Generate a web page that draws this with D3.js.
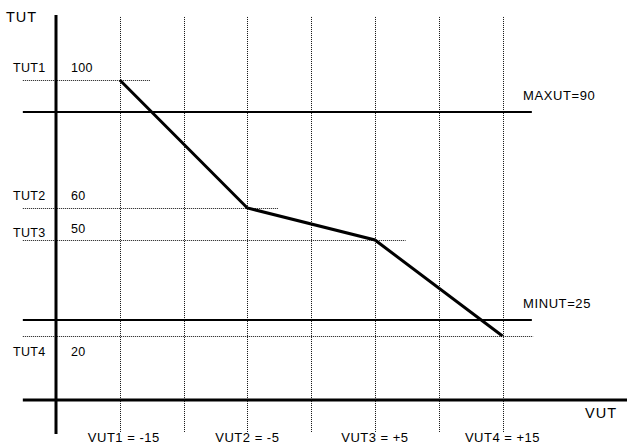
<!DOCTYPE html>
<html>
<head>
<meta charset="utf-8">
<script src="https://cdn.jsdelivr.net/npm/d3@7/dist/d3.min.js"></script>
<style>
  html, body { margin: 0; padding: 0; background: #fff; }
  svg { display: block; }
  text { font-family: "Liberation Sans", Arial, sans-serif; fill: #000; }
</style>
</head>
<body>
<script>
// Break points of the curve: speed values (VUT) and their TUT values
const vutValues = [-15, -5, 5, 15];
const vutLabels = ["VUT1 = -15", "VUT2 = -5", "VUT3 = +5", "VUT4 = +15"];
const tutNames = ["TUT1", "TUT2", "TUT3", "TUT4"];
const tutValues = [100, 60, 50, 20];
// Limits
const maxut = 90;
const minut = 25;
const limitLabels = ["MAXUT=90", "MINUT=25"];
// Grid positions along VUT
const gridVut = [-15, -10, -5, 0, 5, 10, 15];

const W = 627, H = 444;
const svg = d3.select("body").append("svg").attr("width", W).attr("height", H);

const x = d3.scaleLinear().domain([-20, 15]).range([56, 502.5]);
const y = d3.scaleLinear().domain([0, 100]).range([400, 80]);

const xLeft = -22.6, xRight = 17.3, yTop = 120.3, yBottom = -10;

// Vertical dotted grid
svg.append("g").selectAll("line").data(gridVut).join("line")
  .attr("x1", d => Math.round(x(d)) + 0.5).attr("x2", d => Math.round(x(d)) + 0.5)
  .attr("y1", y(119.7)).attr("y2", y(-10.3))
  .attr("stroke", "#111").attr("stroke-width", 1).attr("stroke-dasharray", "1,1");

// Horizontal dotted guides from each break point
svg.append("g").selectAll("line").data(tutValues).join("line")
  .attr("x1", x(xLeft)).attr("x2", (d, i) => x(vutValues[i] + 2.4))
  .attr("y1", d => Math.round(y(d)) + 0.5).attr("y2", d => Math.round(y(d)) + 0.5)
  .attr("stroke", "#111").attr("stroke-width", 1).attr("stroke-dasharray", "1,1");

// MAXUT / MINUT limit lines
svg.append("g").selectAll("line").data([maxut, minut]).join("line")
  .attr("x1", x(xLeft)).attr("x2", x(xRight))
  .attr("y1", d => y(d)).attr("y2", d => y(d))
  .attr("stroke", "#000").attr("stroke-width", 2);

svg.append("g").selectAll("text").data(limitLabels).join("text")
  .attr("x", 523)
  .attr("y", (d, i) => y([maxut, minut][i]) - 12)
  .attr("font-size", 13).attr("letter-spacing", 0.6)
  .text(d => d);

// Axes
svg.append("line")
  .attr("x1", x(xLeft)).attr("x2", W).attr("y1", y(0)).attr("y2", y(0))
  .attr("stroke", "#000").attr("stroke-width", 3);
svg.append("line")
  .attr("x1", x(-20)).attr("x2", x(-20)).attr("y1", y(yTop)).attr("y2", y(yBottom) + 2)
  .attr("stroke", "#000").attr("stroke-width", 3);

// Curve
svg.append("path")
  .datum(vutValues.map((v, i) => [v, tutValues[i]]))
  .attr("d", d3.line().x(d => x(d[0])).y(d => y(d[1])))
  .attr("fill", "none").attr("stroke", "#000").attr("stroke-width", 3)
  .attr("stroke-linejoin", "miter");

// TUT labels on the left (name beside the axis, value inside)
const nameDy = [-8, -8, -3, 20];
const valDy = [-8, -8, -7, 20];
svg.append("g").selectAll("text").data(tutNames).join("text")
  .attr("x", 13).attr("y", (d, i) => y(tutValues[i]) + nameDy[i])
  .attr("font-size", 12.5).attr("letter-spacing", 0.3)
  .text(d => d);
svg.append("g").selectAll("text").data(tutValues).join("text")
  .attr("x", 71).attr("y", (d, i) => y(d) + valDy[i])
  .attr("font-size", 12.5).attr("letter-spacing", 0.3)
  .text(d => d);

// VUT labels under the axis
svg.append("g").selectAll("text").data(vutLabels).join("text")
  .attr("x", (d, i) => x(vutValues[i]) + (i === 0 ? 4 : 0))
  .attr("y", 442).attr("text-anchor", "middle")
  .attr("font-size", 13).attr("letter-spacing", 0.5)
  .text(d => d);

// Axis titles
svg.append("text").attr("x", 6).attr("y", 22)
  .attr("font-size", 14.5).attr("letter-spacing", 1).text("TUT");
svg.append("text").attr("x", 585).attr("y", 418)
  .attr("font-size", 14.5).attr("letter-spacing", 1).text("VUT");
</script>
</body>
</html>
